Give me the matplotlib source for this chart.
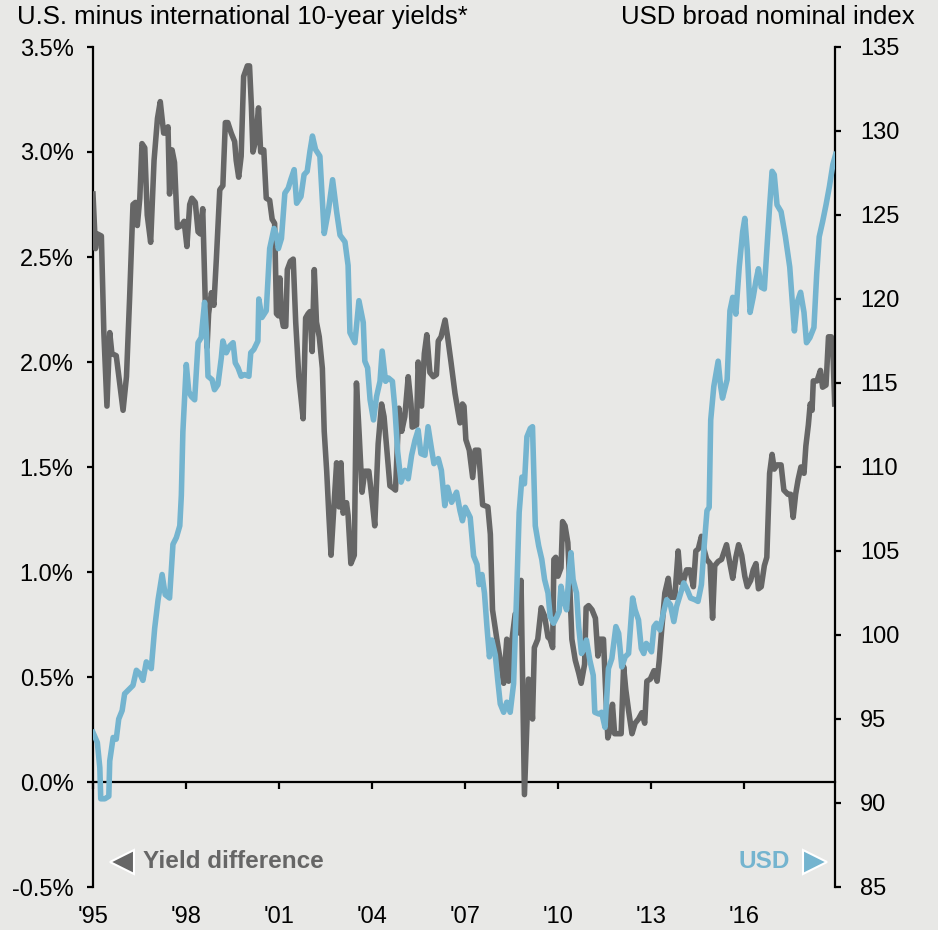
import matplotlib.pyplot as plt
import numpy as np

# U.S. minus international 10-year yields (%), decimal years
yld_t = [1995.00, 1995.08, 1995.14, 1995.27, 1995.35, 1995.45, 1995.54, 1995.61, 1995.75, 1995.86,
         1995.97, 1996.08, 1996.18, 1996.29, 1996.37, 1996.43, 1996.51, 1996.58, 1996.67, 1996.75,
         1996.86, 1996.97, 1997.08, 1997.17, 1997.28, 1997.37, 1997.42, 1997.47, 1997.55, 1997.63,
         1997.72, 1997.85, 1997.94, 1998.03, 1998.12, 1998.19, 1998.30, 1998.39, 1998.46, 1998.54,
         1998.62, 1998.68, 1998.73, 1998.82, 1998.90, 1998.98, 1999.09, 1999.19, 1999.27, 1999.35,
         1999.46, 1999.57, 1999.62, 1999.70, 1999.78, 1999.86, 1999.98, 2000.05, 2000.11, 2000.16,
         2000.24, 2000.34, 2000.41, 2000.51, 2000.59, 2000.70, 2000.78, 2000.86, 2000.92, 2000.98,
         2001.03, 2001.08, 2001.14, 2001.22, 2001.27, 2001.37, 2001.46, 2001.54, 2001.64, 2001.78,
         2001.86, 2001.94, 2002.00, 2002.07, 2002.14, 2002.21, 2002.30, 2002.40, 2002.46, 2002.54,
         2002.61, 2002.68, 2002.78, 2002.86, 2002.94, 2003.00, 2003.07, 2003.18, 2003.23, 2003.32,
         2003.43, 2003.50, 2003.59, 2003.68, 2003.77, 2003.90, 2004.00, 2004.09, 2004.20, 2004.31,
         2004.39, 2004.50, 2004.58, 2004.68, 2004.76, 2004.87, 2004.96, 2005.06, 2005.17, 2005.26,
         2005.30, 2005.44, 2005.49, 2005.60, 2005.69, 2005.77, 2005.87, 2005.98, 2006.08, 2006.14,
         2006.23, 2006.36, 2006.44, 2006.55, 2006.68, 2006.84, 2006.92, 2006.97, 2007.03, 2007.14,
         2007.25, 2007.33, 2007.44, 2007.57, 2007.74, 2007.82, 2007.89, 2008.03, 2008.14, 2008.25,
         2008.35, 2008.41, 2008.52, 2008.62, 2008.73, 2008.81, 2008.92, 2009.05, 2009.10, 2009.18,
         2009.24, 2009.35, 2009.46, 2009.57, 2009.68, 2009.75, 2009.83, 2009.87, 2009.93, 2010.00,
         2010.10, 2010.15, 2010.23, 2010.32, 2010.37, 2010.45, 2010.56, 2010.67, 2010.75, 2010.86,
         2010.91, 2010.99, 2011.10, 2011.21, 2011.29, 2011.37, 2011.47, 2011.53, 2011.61, 2011.69,
         2011.76, 2011.83, 2011.94, 2012.04, 2012.12, 2012.19, 2012.28, 2012.39, 2012.49, 2012.60,
         2012.71, 2012.80, 2012.87, 2012.98, 2013.10, 2013.20, 2013.27, 2013.34, 2013.45, 2013.56,
         2013.63, 2013.77, 2013.88, 2013.96, 2014.04, 2014.15, 2014.26, 2014.37, 2014.45, 2014.53,
         2014.63, 2014.71, 2014.80, 2014.91, 2014.99, 2015.06, 2015.17, 2015.28, 2015.44, 2015.55,
         2015.64, 2015.74, 2015.83, 2015.93, 2016.03, 2016.11, 2016.22, 2016.30, 2016.39, 2016.47,
         2016.56, 2016.66, 2016.74, 2016.83, 2016.91, 2016.98, 2017.07, 2017.20, 2017.29, 2017.42,
         2017.51, 2017.59, 2017.67, 2017.75, 2017.84, 2017.94, 2018.00, 2018.08, 2018.14, 2018.20,
         2018.24, 2018.36, 2018.47, 2018.54, 2018.65, 2018.73, 2018.82, 2018.87, 2018.93]
yld_v = [2.80, 2.54, 2.61, 2.60, 2.14, 1.79, 2.14, 2.04, 2.03, 1.90,
         1.77, 1.93, 2.30, 2.75, 2.76, 2.65, 2.78, 3.04, 3.02, 2.70,
         2.57, 2.96, 3.16, 3.24, 3.09, 3.09, 3.12, 2.80, 3.01, 2.95,
         2.64, 2.65, 2.67, 2.55, 2.75, 2.78, 2.76, 2.62, 2.61, 2.73,
         2.30, 2.07, 2.23, 2.33, 2.27, 2.49, 2.82, 2.84, 3.14, 3.14,
         3.09, 3.05, 2.96, 2.88, 2.98, 3.36, 3.41, 3.41, 3.22, 3.00,
         3.05, 3.21, 3.00, 3.01, 2.78, 2.77, 2.68, 2.66, 2.23, 2.22,
         2.40, 2.22, 2.17, 2.17, 2.44, 2.48, 2.49, 2.19, 1.93, 1.73,
         2.21, 2.23, 2.24, 2.05, 2.44, 2.19, 2.12, 1.97, 1.67, 1.48,
         1.27, 1.08, 1.33, 1.52, 1.31, 1.52, 1.28, 1.33, 1.27, 1.04,
         1.08, 1.90, 1.65, 1.38, 1.48, 1.48, 1.35, 1.22, 1.61, 1.80,
         1.74, 1.55, 1.41, 1.40, 1.39, 1.78, 1.67, 1.74, 1.93, 1.80,
         1.69, 1.70, 2.00, 1.79, 2.04, 2.13, 1.95, 1.93, 1.94, 2.10,
         2.12, 2.20, 2.12, 2.00, 1.85, 1.71, 1.80, 1.79, 1.63, 1.58,
         1.45, 1.58, 1.58, 1.32, 1.31, 1.18, 0.82, 0.68, 0.58, 0.47,
         0.68, 0.48, 0.68, 0.80, 0.71, 0.96, -0.06, 0.49, 0.48, 0.30,
         0.64, 0.68, 0.83, 0.79, 0.69, 0.68, 0.64, 1.06, 1.07, 0.98,
         1.02, 1.24, 1.22, 1.14, 0.98, 0.68, 0.58, 0.52, 0.47, 0.56,
         0.83, 0.84, 0.82, 0.78, 0.60, 0.68, 0.68, 0.47, 0.21, 0.25,
         0.37, 0.23, 0.23, 0.23, 0.55, 0.44, 0.34, 0.23, 0.28, 0.30,
         0.33, 0.28, 0.48, 0.49, 0.53, 0.48, 0.58, 0.71, 0.90, 0.97,
         0.88, 0.88, 1.10, 0.95, 0.95, 1.01, 1.01, 0.93, 1.10, 1.11,
         1.17, 1.11, 1.06, 1.04, 0.78, 1.03, 1.05, 1.06, 1.13, 1.04,
         0.97, 1.07, 1.13, 1.08, 0.98, 0.93, 0.96, 1.01, 1.04, 0.92,
         0.93, 1.03, 1.07, 1.47, 1.56, 1.49, 1.51, 1.51, 1.39, 1.37,
         1.37, 1.26, 1.37, 1.44, 1.50, 1.47, 1.60, 1.70, 1.80, 1.77,
         1.91, 1.91, 1.96, 1.88, 1.89, 2.12, 2.12, 2.06, 1.80]

# USD broad nominal index, decimal years
usd_t = [1995.00, 1995.14, 1995.22, 1995.25, 1995.38, 1995.51, 1995.54, 1995.65, 1995.75, 1995.83,
         1995.94, 1996.02, 1996.13, 1996.29, 1996.40, 1996.51, 1996.61, 1996.72, 1996.88, 1996.99,
         1997.10, 1997.23, 1997.33, 1997.47, 1997.58, 1997.69, 1997.80, 1997.85, 1997.90, 1998.01,
         1998.09, 1998.17, 1998.28, 1998.39, 1998.49, 1998.60, 1998.66, 1998.71, 1998.84, 1998.92,
         1999.03, 1999.14, 1999.19, 1999.30, 1999.41, 1999.52, 1999.59, 1999.68, 1999.78, 1999.89,
         2000.03, 2000.09, 2000.19, 2000.32, 2000.35, 2000.45, 2000.59, 2000.70, 2000.84, 2000.92,
         2000.98, 2001.08, 2001.19, 2001.30, 2001.38, 2001.49, 2001.57, 2001.71, 2001.81, 2001.91,
         2002.00, 2002.08, 2002.18, 2002.32, 2002.46, 2002.59, 2002.73, 2002.86, 2002.97, 2003.13,
         2003.23, 2003.29, 2003.45, 2003.58, 2003.72, 2003.77, 2003.86, 2003.94, 2004.05, 2004.15,
         2004.26, 2004.33, 2004.44, 2004.53, 2004.66, 2004.74, 2004.83, 2004.94, 2005.06, 2005.17,
         2005.28, 2005.39, 2005.49, 2005.58, 2005.71, 2005.81, 2005.92, 2006.00, 2006.14, 2006.24,
         2006.35, 2006.44, 2006.57, 2006.73, 2006.84, 2006.92, 2007.01, 2007.17, 2007.28, 2007.39,
         2007.46, 2007.55, 2007.63, 2007.71, 2007.79, 2007.87, 2007.98, 2008.06, 2008.14, 2008.25,
         2008.35, 2008.46, 2008.57, 2008.68, 2008.75, 2008.84, 2008.92, 2009.00, 2009.11, 2009.18,
         2009.27, 2009.38, 2009.48, 2009.57, 2009.68, 2009.75, 2009.86, 2009.97, 2010.04, 2010.10,
         2010.18, 2010.28, 2010.35, 2010.42, 2010.49, 2010.60, 2010.67, 2010.76, 2010.85, 2010.92,
         2011.03, 2011.14, 2011.19, 2011.32, 2011.41, 2011.52, 2011.63, 2011.74, 2011.87, 2011.96,
         2012.06, 2012.17, 2012.28, 2012.41, 2012.49, 2012.60, 2012.69, 2012.77, 2012.85, 2012.93,
         2013.02, 2013.10, 2013.18, 2013.29, 2013.40, 2013.51, 2013.63, 2013.74, 2013.83, 2013.96,
         2014.06, 2014.17, 2014.28, 2014.42, 2014.52, 2014.63, 2014.71, 2014.81, 2014.88, 2014.93,
         2015.03, 2015.17, 2015.25, 2015.31, 2015.46, 2015.55, 2015.64, 2015.74, 2015.85, 2015.96,
         2016.03, 2016.11, 2016.20, 2016.30, 2016.39, 2016.47, 2016.56, 2016.66, 2016.74, 2016.83,
         2016.91, 2016.98, 2017.07, 2017.20, 2017.34, 2017.48, 2017.56, 2017.63, 2017.72, 2017.83,
         2017.94, 2018.02, 2018.13, 2018.26, 2018.35, 2018.43, 2018.54, 2018.65, 2018.76, 2018.87,
         2018.96]
usd_v = [94.2, 93.6, 92.1, 90.25, 90.25, 90.4, 92.5, 93.9, 93.8, 95.0,
         95.5, 96.5, 96.7, 97.0, 97.9, 97.7, 97.3, 98.4, 98.0, 100.4,
         102.1, 103.6, 102.4, 102.2, 105.4, 105.8, 106.5, 108.3, 112.1, 116.1,
         114.5, 114.2, 114.0, 117.4, 117.7, 119.8, 118.0, 115.4, 115.2, 114.6,
         114.9, 116.5, 117.5, 116.8, 117.2, 117.4, 116.2, 115.9, 115.4, 115.5,
         115.4, 116.8, 117.0, 117.5, 120.0, 118.9, 119.3, 123.0, 124.2, 123.8,
         123.0, 123.6, 126.3, 126.6, 127.1, 127.7, 125.7, 126.1, 127.4, 127.6,
         128.8, 129.7, 128.9, 128.5, 123.9, 125.2, 127.1, 125.2, 123.8, 123.4,
         122.0, 118.0, 117.4, 119.9, 118.6, 116.3, 115.9, 114.0, 112.8, 114.2,
         115.1, 116.9, 115.1, 115.3, 115.1, 113.5, 110.9, 109.1, 109.8, 109.3,
         110.7, 111.6, 112.2, 110.8, 110.7, 112.4, 111.1, 110.2, 110.5, 109.8,
         107.7, 108.8, 107.9, 108.5, 107.4, 106.8, 107.6, 107.0, 104.7, 104.2,
         103.0, 103.6, 102.5, 100.5, 98.7, 99.7, 98.8, 97.3, 95.9, 95.4,
         96.0, 95.4, 97.1, 103.1, 107.3, 109.4, 109.0, 111.8, 112.3, 112.4,
         106.5, 105.3, 104.5, 103.3, 102.5, 101.1, 100.7, 101.1, 101.4, 102.9,
         102.1, 101.5, 103.5, 104.9, 103.3, 102.5, 100.5, 98.9, 99.2, 99.7,
         98.5, 97.6, 95.4, 95.3, 95.4, 94.5, 98.0, 98.6, 100.5, 100.1,
         98.1, 98.7, 98.9, 102.2, 101.5, 100.9, 99.2, 98.9, 99.5, 99.3,
         99.0, 100.5, 100.7, 100.3, 101.3, 102.1, 101.8, 100.8, 101.7, 102.5,
         103.1, 102.7, 102.2, 102.1, 102.0, 103.0, 105.1, 107.4, 107.6, 112.8,
         114.8, 116.3, 114.8, 114.1, 115.2, 119.3, 120.1, 119.1, 121.9, 124.0,
         124.8, 122.9, 119.2, 120.1, 121.1, 121.8, 120.7, 120.6, 122.9, 125.5,
         127.6, 127.4, 125.6, 125.2, 123.7, 121.9, 119.9, 118.1, 119.8, 120.4,
         119.2, 117.4, 117.7, 118.3, 121.5, 123.7, 124.6, 125.6, 126.7, 128.0,
         128.6]

x_ticks = [1995, 1998, 2001, 2004, 2007, 2010, 2013, 2016]
x_labels = ["'95", "'98", "'01", "'04", "'07", "'10", "'13", "'16"]
left_ticks = [-0.5, 0.0, 0.5, 1.0, 1.5, 2.0, 2.5, 3.0, 3.5]
right_ticks = [85, 90, 95, 100, 105, 110, 115, 120, 125, 130, 135]

bg = '#e8e8e6'
gray = '#666666'
blue = '#74b4cf'

plt.rcParams['font.family'] = ['Liberation Sans', 'DejaVu Sans']

fig = plt.figure(figsize=(9.38, 9.30), dpi=100, facecolor=bg)
ax = fig.add_axes([93 / 938, 43 / 930, 742 / 938, 840 / 930])
ax.set_facecolor(bg)
ax2 = ax.twinx()

ax.plot(yld_t, yld_v, color=gray, lw=4.0, solid_joinstyle='round', zorder=3)
ax2.plot(usd_t, usd_v, color=blue, lw=4.0, solid_joinstyle='round', zorder=3)

ax.set_xlim(1995, 2018.94)
ax.set_ylim(-0.5, 3.5)
ax2.set_ylim(85, 135)

for s in ['top', 'right']:
    ax.spines[s].set_visible(False)
for s in ['top', 'left', 'bottom']:
    ax2.spines[s].set_visible(False)
ax.spines['bottom'].set_position(('data', 0))
for sp in [ax.spines['left'], ax.spines['bottom'], ax2.spines['right']]:
    sp.set_linewidth(1.6)

ax.set_xticks(x_ticks)
ax.set_xticklabels(x_labels)
ax.set_yticks(left_ticks)
ax.set_yticklabels(['%.1f%%' % v for v in left_ticks])
ax2.set_yticks(right_ticks)
ax2.set_yticklabels([str(v) for v in right_ticks])

ax.tick_params(axis='x', direction='out', length=5, width=1.6, pad=84, labelsize=17)
ax.tick_params(axis='y', direction='out', length=4, width=1.6, pad=10, labelsize=17)
ax2.tick_params(axis='y', direction='out', length=4, width=1.6, pad=14, labelsize=17)

fig.text(17 / 938, 1 - 5 / 930, 'U.S. minus international 10-year yields*',
         ha='left', va='top', fontsize=18.5)
fig.text(915 / 938, 1 - 5 / 930, 'USD broad nominal index',
         ha='right', va='top', fontsize=18.5)

# legend keys
ax.plot([0.039], [0.03], marker='<', ms=17, color=gray, mec='white', mew=1.5,
        transform=ax.transAxes, clip_on=False, zorder=5)
ax.text(0.0674, 0.03, 'Yield difference', transform=ax.transAxes, color=gray,
        fontsize=17.5, fontweight='bold', va='center', ha='left')
ax2.plot([0.973], [0.03], marker='>', ms=17, color=blue, mec='white', mew=1.5,
         transform=ax2.transAxes, clip_on=False, zorder=5)
ax2.text(0.939, 0.03, 'USD', transform=ax2.transAxes, color=blue,
         fontsize=17.5, fontweight='bold', va='center', ha='right')

fig.savefig('out.png', dpi=100, facecolor=bg)
